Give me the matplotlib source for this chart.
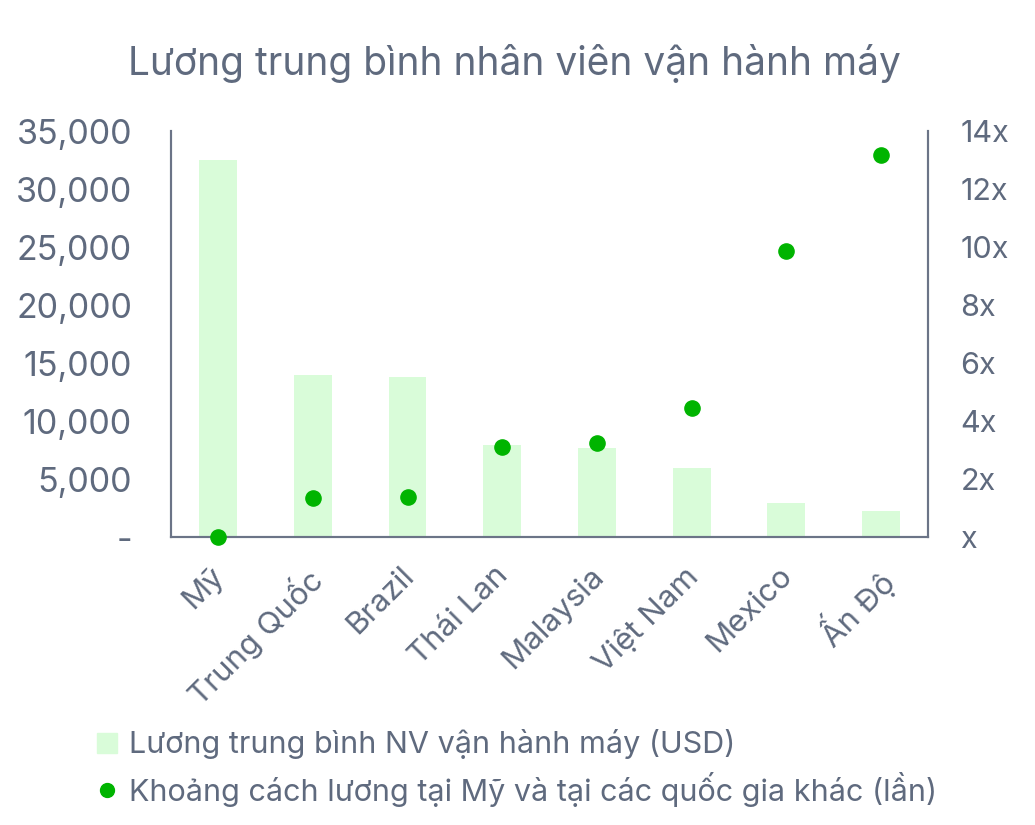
import matplotlib

matplotlib.use("Agg")

import matplotlib.pyplot as plt  # noqa: E402
import matplotlib.transforms as mtransforms  # noqa: E402
import numpy as np  # noqa: E402
from matplotlib.lines import Line2D  # noqa: E402
from matplotlib.ticker import FuncFormatter  # noqa: E402

TEXT = "#5f6a7e"
SPINE = "#6b7487"
BAR = "#d9fcd9"
DOT = "#00b400"

plt.rcParams["font.family"] = ["Inter", "DejaVu Sans"]

countries = ["Mỹ", "Trung Quốc", "Brazil", "Thái Lan", "Malaysia", "Việt Nam", "Mexico", "Ấn Độ"]
salary_usd = [32500, 14000, 13800, 7900, 7700, 5950, 2950, 2250]
gap_times = [0.0, 1.34, 1.38, 3.1, 3.24, 4.45, 9.86, 13.17]

fig = plt.figure(figsize=(10.35, 8.25), dpi=100)
ax = fig.add_axes([0.165, 0.349, 0.732, 0.492])
ax2 = ax.twinx()

x = np.arange(len(countries))
ax.bar(x, salary_usd, 0.4, color=BAR, zorder=1)
ax2.scatter(x, gap_times, s=120, color=DOT, zorder=3, clip_on=False)

ax.set_xlim(-0.5, len(countries) - 0.5)
ax.set_ylim(0, 35000)
ax2.set_ylim(0, 14)
ax.set_yticks(np.arange(0, 35001, 5000))
ax2.set_yticks(np.arange(0, 15, 2))
ax.yaxis.set_major_formatter(FuncFormatter(lambda v, p: "-" if v == 0 else f"{int(v):,}"))
ax2.yaxis.set_major_formatter(FuncFormatter(lambda v, p: "x" if v == 0 else f"{int(v)}x"))

ax.set_xticks(x)
ax.set_xticklabels(countries, rotation=45, ha="right", rotation_mode="anchor")

for a in (ax, ax2):
    a.spines["top"].set_visible(False)
    for s in ("left", "right", "bottom"):
        a.spines[s].set_color(SPINE)
        a.spines[s].set_linewidth(1.5)
    a.tick_params(length=0, colors=TEXT)
ax.tick_params(axis="y", pad=28, labelsize=24.5)
ax.tick_params(axis="x", pad=14, labelsize=22.5)
ax2.tick_params(axis="y", pad=23, labelsize=22)

# nudge the rotated country labels a bit left and down
shift = mtransforms.ScaledTranslation(-8 / 100, -5 / 100, fig.dpi_scale_trans)
for lbl in ax.get_xticklabels():
    lbl.set_transform(lbl.get_transform() + shift)

fig.text(0.497, 0.923, "Lương trung bình nhân viên vận hành máy",
         ha="center", va="center", fontsize=28, color=TEXT)

handles = [
    Line2D([], [], marker="s", linestyle="none", markersize=14, color=BAR,
           label="Lương trung bình NV vận hành máy (USD)"),
    Line2D([], [], marker="o", linestyle="none", markersize=10, color=DOT,
           label="Khoảng cách lương tại Mỹ và tại các quốc gia khác (lần)"),
]
fig.legend(handles=handles, loc="lower left", bbox_to_anchor=(0.077, 0.0),
           frameon=False, fontsize=22, labelcolor=TEXT, handlelength=0.6,
           handletextpad=0.4, labelspacing=0.4, borderaxespad=0.2)

fig.savefig("out.png", dpi=100, facecolor="white")
